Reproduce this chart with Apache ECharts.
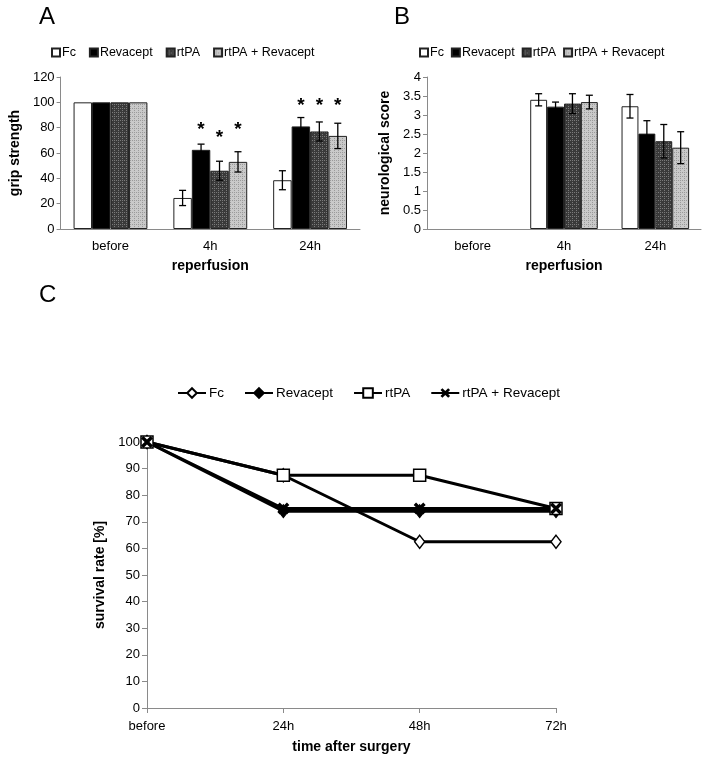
<!DOCTYPE html>
<html><head><meta charset="utf-8">
<script src="https://cdn.jsdelivr.net/npm/echarts@6/dist/echarts.min.js"></script>
<style>html,body{margin:0;padding:0;background:#fff;} .p{position:absolute;}</style>
</head><body>
<div id="a" class="p" style="left:0;top:0;width:370px;height:280px"></div>
<div id="b" class="p" style="left:370px;top:0;width:336px;height:280px"></div>
<div id="c" class="p" style="left:0;top:280px;width:706px;height:479px"></div>
<script>
// ---------- data ----------
const groupCats = ['before', '4h', '24h'];
const groupNames = ['Fc', 'Revacept', 'rtPA', 'rtPA + Revacept'];

const gripFc = [100, 24.5, 38.5];
const gripRev = [100, 62.5, 81];
const gripRtpa = [100, 46, 77];
const gripCombo = [100, 53, 73.5];
const gripFcErr = [0, 6, 7.5];
const gripRevErr = [0, 4.5, 7];
const gripRtpaErr = [0, 7.5, 7.5];
const gripComboErr = [0, 8, 10];
// level (in grip units) of the significance asterisks
const gripFcStar = [null, null, null];
const gripRevStar = [null, 81, 100];
const gripRtpaStar = [null, 75, 100];
const gripComboStar = [null, 81, 100];

const neuroFc = [null, 3.4, 3.23];
const neuroRev = [null, 3.22, 2.51];
const neuroRtpa = [null, 3.3, 2.31];
const neuroCombo = [null, 3.34, 2.14];
const neuroFcErr = [0, 0.16, 0.31];
const neuroRevErr = [0, 0.12, 0.34];
const neuroRtpaErr = [0, 0.26, 0.44];
const neuroComboErr = [0, 0.18, 0.42];

const timeCats = ['before', '24h', '48h', '72h'];
const survFc = [100, 87.5, 62.5, 62.5];
const survRev = [100, 74, 74, 74];
const survRtpa = [100, 87.5, 87.5, 75];
const survCombo = [100, 75, 75, 75];

const gripTicks = {min: 0, max: 120, interval: 20};
const neuroTicks = {min: 0, max: 4, interval: 0.5};
const survTicks = {min: 0, max: 100, interval: 10};

// ---------- styling helpers ----------
const FONT = 'Liberation Sans, Arial, Helvetica, sans-serif';
function pattern(base, dot) {
  const c = document.createElement('canvas');
  c.width = c.height = 4;
  const g = c.getContext('2d');
  g.fillStyle = base; g.fillRect(0, 0, 4, 4);
  g.fillStyle = dot; g.fillRect(0, 0, 1, 1); g.fillRect(2, 2, 1, 1);
  g.fillRect(2, 0, 1, 1);
  return {image: c, repeat: 'repeat'};
}
const fills = ['#ffffff', '#000000', pattern('#3a3a3a', '#7a7a7a'), pattern('#c9c9c9', '#9a9a9a')];
const CAT_GAP = 0.26;
const axisGray = '#8a8a8a';

function errSeries(means, errs, stars, idx) {
  const data = means.map((m, i) => [i, m == null ? 0 : m, errs[i], stars && stars[i] != null ? stars[i] : -1]);
  return {
    type: 'custom', silent: true, z: 5,
    encode: {x: 0, y: 1},
    data: data,
    renderItem: function (params, api) {
      const cat = api.value(0), mean = api.value(1), err = api.value(2), star = api.value(3);
      const catW = api.size([1, 0])[0];
      const groupW = catW * (1 - CAT_GAP);
      const bw = groupW / 4;
      const base = api.coord([cat, mean]);
      const x = base[0] - groupW / 2 + (idx + 0.5) * bw;
      const children = [];
      if (err > 0) {
        const yt = api.coord([cat, mean + err])[1];
        const yb = api.coord([cat, mean - err])[1];
        const st = {stroke: '#000', lineWidth: 1.3};
        children.push({type: 'line', shape: {x1: x, y1: yt, x2: x, y2: yb}, style: st});
        children.push({type: 'line', shape: {x1: x - 3.5, y1: yt, x2: x + 3.5, y2: yt}, style: st});
        children.push({type: 'line', shape: {x1: x - 3.5, y1: yb, x2: x + 3.5, y2: yb}, style: st});
      }
      if (star >= 0) {
        const ys = api.coord([cat, star])[1];
        children.push({type: 'text', style: {text: '*', x: x, y: ys + 3.5, align: 'center', verticalAlign: 'middle',
          font: 'bold 19px ' + FONT, fill: '#000'}});
      }
      return {type: 'group', children: children};
    }
  };
}

function barOption(title, yName, means, errs, stars, ticks, gridLeft, gridWidth, nameGap, legendLeft, legendGap, titleLeft) {
  const series = [];
  means.forEach((m, i) => {
    series.push({
      name: groupNames[i], type: 'bar', data: m,
      barGap: '0%', barCategoryGap: (CAT_GAP * 100) + '%',
      itemStyle: {color: fills[i], borderColor: '#222', borderWidth: 1}
    });
  });
  means.forEach((m, i) => series.push(errSeries(m, errs[i], stars ? stars[i] : null, i)));
  return {
    animation: false,
    textStyle: {fontFamily: FONT},
    title: {text: title, left: titleLeft, top: 0,
      textStyle: {fontSize: 24, fontWeight: 'normal', color: '#000', fontFamily: FONT}},
    legend: {
      data: groupNames, left: legendLeft, top: 41, width: 330, icon: 'rect',
      itemWidth: 8, itemHeight: 8, itemGap: legendGap,
      textStyle: {fontSize: 12.5, color: '#000', fontFamily: FONT, padding: [0, 0, 0, -3]}
    },
    grid: {left: gridLeft, top: 77, width: gridWidth, height: 152},
    xAxis: {
      type: 'category', data: groupCats,
      axisLine: {lineStyle: {color: axisGray}},
      axisTick: {lineStyle: {color: axisGray}, length: 4},
      axisLabel: {color: '#000', fontSize: 13, margin: 11, fontFamily: FONT},
      name: 'reperfusion', nameLocation: 'middle', nameGap: 30,
      nameTextStyle: {fontSize: 14, fontWeight: 'bold', color: '#000', fontFamily: FONT}
    },
    yAxis: {
      type: 'value', min: ticks.min, max: ticks.max, interval: ticks.interval,
      splitLine: {show: false},
      axisLine: {show: true, lineStyle: {color: axisGray}},
      axisTick: {show: true, length: 4, lineStyle: {color: axisGray}},
      axisLabel: {color: '#000', fontSize: 13, margin: 6, fontFamily: FONT},
      name: yName, nameLocation: 'middle', nameGap: nameGap,
      nameTextStyle: {fontSize: 14, fontWeight: 'bold', color: '#000', fontFamily: FONT}
    },
    series: series
  };
}

const chartA = echarts.init(document.getElementById('a'));
chartA.setOption(barOption('A', 'grip strength',
  [gripFc, gripRev, gripRtpa, gripCombo],
  [gripFcErr, gripRevErr, gripRtpaErr, gripComboErr],
  [gripFcStar, gripRevStar, gripRtpaStar, gripComboStar],
  gripTicks, 54, 306, 35, 46, 13, 34));

const chartB = echarts.init(document.getElementById('b'));
chartB.setOption(barOption('B', 'neurological score',
  [neuroFc, neuroRev, neuroRtpa, neuroCombo],
  [neuroFcErr, neuroRevErr, neuroRtpaErr, neuroComboErr],
  null, neuroTicks, 57, 274, 18, 44, 7, 19));

// ---------- panel C ----------
const xPath = 'path://M2,0 L5,3 L8,0 L10,2 L7,5 L10,8 L8,10 L5,7 L2,10 L0,8 L3,5 L0,2 Z';
const lineStyles = [
  {symbol: 'diamond', symbolSize: [10, 13], itemStyle: {color: '#fff', borderColor: '#000', borderWidth: 1.5}},
  {symbol: 'diamond', symbolSize: [10, 13], itemStyle: {color: '#000', borderColor: '#000', borderWidth: 1}},
  {symbol: 'rect', symbolSize: [12, 12], itemStyle: {color: '#fff', borderColor: '#000', borderWidth: 1.5}},
  {symbol: xPath, symbolSize: [12, 12], itemStyle: {color: '#000', borderWidth: 0}}
];
const survData = [survFc, survRev, survRtpa, survCombo];
const chartC = echarts.init(document.getElementById('c'));
chartC.setOption({
  animation: false,
  textStyle: {fontFamily: FONT},
  title: {text: 'C', left: 34, top: -2, textStyle: {fontSize: 24, fontWeight: 'normal', color: '#000', fontFamily: FONT}},
  legend: {
    data: groupNames, left: 172, top: 101,
    itemWidth: 28, itemHeight: 12, itemGap: 20,
    textStyle: {fontSize: 13.5, color: '#000', fontFamily: FONT, padding: [0, 0, 0, -2]}
  },
  grid: {left: 147, top: 162, width: 409, height: 269},
  xAxis: {
    type: 'category', data: timeCats, boundaryGap: false,
    axisLine: {lineStyle: {color: axisGray}},
    axisTick: {lineStyle: {color: axisGray}, length: 5},
    axisLabel: {color: '#000', fontSize: 13, margin: 12, fontFamily: FONT},
    name: 'time after surgery', nameLocation: 'middle', nameGap: 32,
    nameTextStyle: {fontSize: 14, fontWeight: 'bold', color: '#000', fontFamily: FONT}
  },
  yAxis: {
    type: 'value', min: survTicks.min, max: survTicks.max, interval: survTicks.interval,
    splitLine: {show: false},
    axisLine: {show: true, lineStyle: {color: axisGray}},
    axisTick: {show: true, length: 5, lineStyle: {color: axisGray}},
    axisLabel: {color: '#000', fontSize: 13, margin: 7, fontFamily: FONT},
    name: 'survival rate [%]', nameLocation: 'middle', nameGap: 30,
    nameTextStyle: {fontSize: 14, fontWeight: 'bold', color: '#000', fontFamily: FONT}
  },
  series: survData.map((d, i) => Object.assign({
    name: groupNames[i], type: 'line', data: d, showAllSymbol: true,
    lineStyle: {color: '#000', width: 3}
  }, lineStyles[i]))
});
</script>
</body></html>
